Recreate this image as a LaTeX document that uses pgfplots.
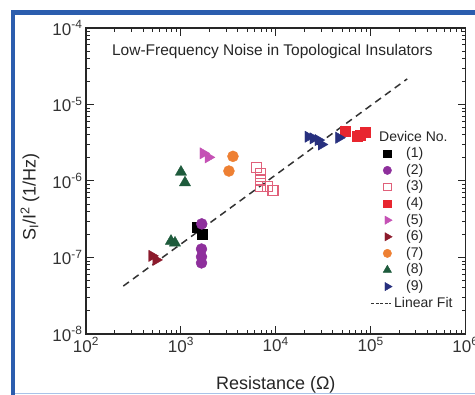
\documentclass[border=0pt]{standalone}
\usepackage{fontspec}
\setmainfont{Liberation Sans}
\usepackage{pgfplots}
\pgfplotsset{compat=1.18}
\definecolor{frameblue}{HTML}{2B5DAE}
\definecolor{framelight}{HTML}{A9C3E8}
\definecolor{cpurple}{HTML}{8E2F9C}
\definecolor{cpink}{HTML}{E0607A}
\definecolor{cred}{HTML}{E8262F}
\definecolor{cmagenta}{HTML}{C551B5}
\definecolor{cdarkred}{HTML}{8C1A2C}
\definecolor{corange}{HTML}{EE8033}
\definecolor{cgreen}{HTML}{1E5B3C}
\definecolor{cnavy}{HTML}{27307E}
\pgfplotsset{legmark/.style={legend image code/.code={\draw[##1, mark size=#1] plot coordinates {(0.3cm,0cm)};}}}
\begin{document}
\begin{tikzpicture}[x=1pt,y=1pt]
\useasboundingbox (0,0) rectangle (475,395);
\fill[white] (0,0) rectangle (475,395);
\fill[frameblue] (11,0) rectangle (15,385);
\fill[frameblue] (11,380) rectangle (480,385);
\draw[framelight, line width=1pt] (15,1.5) -- (475,1.5);
\begin{axis}[
  at={(86pt,61pt)}, anchor=south west,
  scale only axis, width=379.5pt, height=306pt,
  xmode=log, ymode=log, log basis x=10, log basis y=10,
  xmin=1e2, xmax=1e6, ymin=1e-8, ymax=1e-4,
  xticklabel={10\textsuperscript{\pgfmathparse{int(round(\tick))}\pgfmathresult}},
  yticklabel={10\textsuperscript{\pgfmathparse{int(round(\tick))}\pgfmathresult}},
  tick align=inside, major tick length=8pt, minor tick length=4pt,
  axis line style={line width=1.6pt, black!85},
  every tick/.style={black!85, line width=1pt},
  ticklabel style={font=\fontsize{17}{19}\selectfont, text=black!80},
  xlabel={Resistance (Ω)},
  ylabel={S\textsubscript{I}/I\textsuperscript{2} (1/Hz)},
  every axis x label/.style={at={(axis description cs:0.5,-0.167)}, anchor=center, font=\fontsize{18}{20}\selectfont, text=black!85},
  every axis y label/.style={at={(axis description cs:-0.1476,0.448)}, rotate=90, anchor=center, font=\fontsize{18}{20}\selectfont, text=black!85},
  legend cell align=left,
  legend style={draw=none, fill=none, at={(rel axis cs:0.750,0.670)}, anchor=north west,
    inner sep=0pt, row sep=0.6pt, font=\fontsize{14}{16}\selectfont, text=black!85,
    nodes={inner sep=1pt, text height=11pt, text depth=3pt},
    /tikz/every odd column/.append style={column sep=13pt}},
]
\addlegendimage{empty legend}
\addlegendentry{\hspace*{-27pt}Device No.}

\addplot[only marks, mark=square*, mark size=5pt, color=black, legmark=3.7pt]
  coordinates {(1470,2.5e-7) (1680,2.0e-7)};
\addlegendentry{(1)}
\addplot[only marks, mark=*, mark size=5.5pt, color=cpurple, legmark=4.2pt]
  coordinates {(1660,2.75e-7) (1650,1.29e-7) (1650,1.02e-7) (1650,8.5e-8)};
\addlegendentry{(2)}
\addplot[only marks, mark=square, mark size=5pt, color=cpink, mark options={line width=1.1pt}, legmark=3.7pt]
  coordinates {(6300,1.50e-6) (6930,1.27e-6) (6980,1.03e-6) (6930,8.5e-7) (8220,8.4e-7) (9350,7.6e-7)};
\addlegendentry{(3)}
\addplot[only marks, mark=square*, mark size=5pt, color=cred, legmark=3.7pt]
  coordinates {(53500,4.43e-6) (72000,3.9e-6) (78000,4.0e-6) (88000,4.31e-6)};
\addlegendentry{(4)}
\addplot[only marks, mark=triangle*, mark size=6.5pt, color=cmagenta, mark options={rotate=-90}, legmark=4.8pt]
  coordinates {(1720,2.30e-6) (1950,2.04e-6)};
\addlegendentry{(5)}
\addplot[only marks, mark=triangle*, mark size=6.5pt, color=cdarkred, mark options={rotate=-90}, legmark=4.8pt]
  coordinates {(496,1.05e-7) (547,9.3e-8)};
\addlegendentry{(6)}
\addplot[only marks, mark=*, mark size=5.5pt, color=corange, legmark=4.2pt]
  coordinates {(3540,2.10e-6) (3210,1.35e-6)};
\addlegendentry{(7)}
\addplot[only marks, mark=triangle*, mark size=6.5pt, color=cgreen, legmark=4.8pt]
  coordinates {(1002,1.31e-6) (1105,9.5e-7) (787,1.64e-7) (867,1.55e-7)};
\addlegendentry{(8)}
\addplot[only marks, mark=triangle*, mark size=6.5pt, color=cnavy, mark options={rotate=-90}, legmark=4.8pt]
  coordinates {(21980,3.79e-6) (24830,3.61e-6) (28040,3.43e-6) (30330,3.00e-6) (46350,3.68e-6)};
\addlegendentry{(9)}
\addplot[black!80, line width=1.5pt, dash pattern=on 7pt off 5pt,
  legend image code/.code={\draw[black!80, line width=1pt, dash pattern=on 3pt off 1.5pt] (-7.5pt,0pt) -- (11.8pt,0pt);}]
  coordinates {(247,4.23e-8) (243000,2.16e-5)};
\addlegendentry{\hspace*{-12pt}Linear Fit}

\node[font=\fontsize{15.5}{17}\selectfont, text=black!85] at (rel axis cs:0.491,0.922) {Low-Frequency Noise in Topological Insulators};
\end{axis}
\end{tikzpicture}
\end{document}
